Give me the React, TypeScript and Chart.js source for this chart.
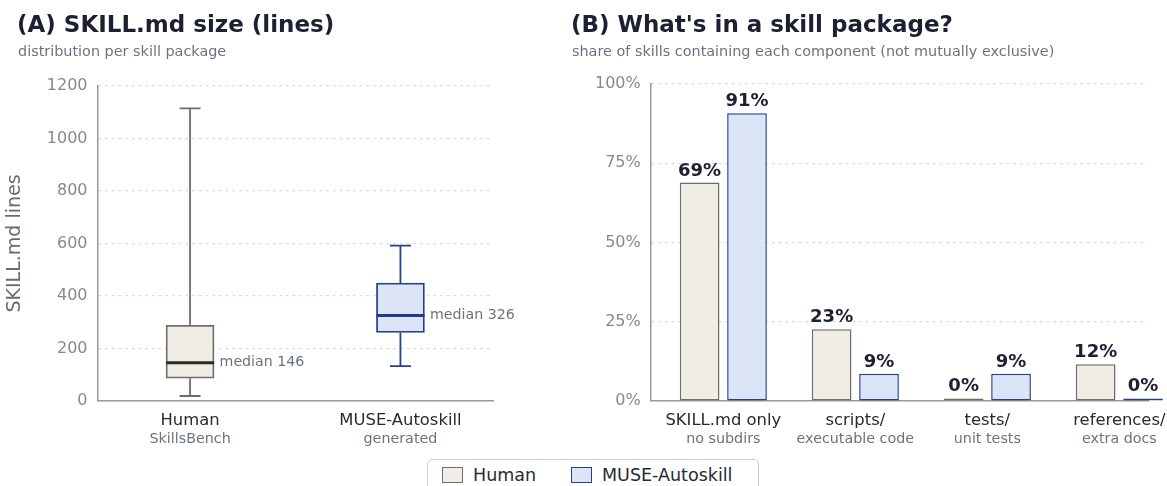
import React, { useEffect, useRef } from 'react';
import { Chart, registerables } from 'chart.js';

Chart.register(...registerables);

// ---------- data ----------
const BOX_GROUPS = ['Human', 'MUSE-Autoskill'];
const BOX_SUBS = ['SkillsBench', 'generated'];
const BOX_MIN = [19, 133];
const BOX_Q1 = [87, 261];
const BOX_MEDIAN = [146, 326];
const BOX_Q3 = [288, 449];
const BOX_MAX = [1115, 592];

const COMPONENTS = ['SKILL.md only', 'scripts/', 'tests/', 'references/'];
const COMPONENT_SUBS = ['no subdirs', 'executable code', 'unit tests', 'extra docs'];
const HUMAN_PCT = [68.9, 22.6, 0, 11.6];
const MUSE_PCT = [90.8, 8.6, 8.6, 0];
const SERIES = ['Human', 'MUSE-Autoskill'];

// ---------- style ----------
const FONT = "'DejaVu Sans', sans-serif";
const HUMAN_FILL = '#f0ede6';
const HUMAN_EDGE = '#6e6d68';
const HUMAN_MEDIAN = '#2b2b28';
const MUSE_FILL = '#dbe5f7';
const MUSE_EDGE = '#23418f';
const MUSE_MEDIAN = '#1e3a8a';
const TITLE_COLOR = '#1c2030';
const LABEL_DARK = '#262b38';
const SUB_GRAY = '#6b7280';
const TICK_GRAY = '#8a8985';
const AXIS_COLOR = '#9c9a93';
const GRID_COLOR = '#d9d9d2';
const MIN_VISIBLE = 0.8; // keeps 0% bars visible as a thin stub

const FILLS = [HUMAN_FILL, MUSE_FILL];
const EDGES = [HUMAN_EDGE, MUSE_EDGE];
const MEDIANS = [HUMAN_MEDIAN, MUSE_MEDIAN];

function drawCategoryLabels(chart: any, cats: string[], subs: string[]) {
  const { ctx, scales, chartArea } = chart;
  const xs = scales.x;
  ctx.save();
  ctx.textAlign = 'center';
  ctx.textBaseline = 'alphabetic';
  cats.forEach((c, i) => {
    const x = xs.getPixelForValue(i);
    ctx.font = `16.4px ${FONT}`;
    ctx.fillStyle = LABEL_DARK;
    ctx.fillText(c, x, chartArea.bottom + 24);
    ctx.font = `14.3px ${FONT}`;
    ctx.fillStyle = SUB_GRAY;
    ctx.fillText(subs[i], x, chartArea.bottom + 42.3);
  });
  ctx.restore();
}

const gridColor = (c: any) => (c.tick && c.tick.value === 0 ? 'rgba(0,0,0,0)' : GRID_COLOR);

function BoxChart() {
  const ref = useRef<HTMLCanvasElement>(null);
  useEffect(() => {
    const boxPlugin = {
      id: 'boxExtras',
      afterDatasetsDraw(chart: any) {
        const { ctx, scales } = chart;
        const x = scales.x;
        const y = scales.y;
        const meta = chart.getDatasetMeta(0);
        const CAP = 21;
        BOX_GROUPS.forEach((_, i) => {
          const cx = x.getPixelForValue(i);
          const half = meta.data[i].width / 2;
          const yMax = y.getPixelForValue(BOX_MAX[i]);
          const yMin = y.getPixelForValue(BOX_MIN[i]);
          const yQ1 = y.getPixelForValue(BOX_Q1[i]);
          const yQ3 = y.getPixelForValue(BOX_Q3[i]);
          const yMed = y.getPixelForValue(BOX_MEDIAN[i]);
          ctx.save();
          ctx.strokeStyle = EDGES[i];
          ctx.lineWidth = 1.8;
          ctx.beginPath();
          ctx.moveTo(cx, yQ3);
          ctx.lineTo(cx, yMax);
          ctx.moveTo(cx, yQ1);
          ctx.lineTo(cx, yMin);
          ctx.moveTo(cx - CAP / 2, yMax);
          ctx.lineTo(cx + CAP / 2, yMax);
          ctx.moveTo(cx - CAP / 2, yMin);
          ctx.lineTo(cx + CAP / 2, yMin);
          ctx.stroke();
          ctx.strokeStyle = MEDIANS[i];
          ctx.lineWidth = 3;
          ctx.beginPath();
          ctx.moveTo(cx - half, yMed);
          ctx.lineTo(cx + half, yMed);
          ctx.stroke();
          ctx.font = `14.2px ${FONT}`;
          ctx.fillStyle = SUB_GRAY;
          ctx.textAlign = 'left';
          ctx.textBaseline = 'middle';
          ctx.fillText(`median ${BOX_MEDIAN[i]}`, cx + half + 5.5, yMed);
          ctx.restore();
        });
      },
      afterDraw(chart: any) {
        drawCategoryLabels(chart, BOX_GROUPS, BOX_SUBS);
      },
    };

    const chart = new Chart(ref.current as HTMLCanvasElement, {
      type: 'bar',
      data: {
        datasets: [
          {
            label: 'IQR',
            data: BOX_GROUPS.map((_, i) => ({ x: i, y: [BOX_Q1[i], BOX_Q3[i]] })) as any,
            backgroundColor: FILLS,
            borderColor: EDGES,
            borderWidth: 1.8,
            borderSkipped: false,
            barThickness: 48,
          },
        ],
      },
      options: {
        animation: false,
        responsive: false,
        maintainAspectRatio: false,
        events: [],
        layout: { padding: { top: 86, right: 67, left: 0, bottom: 0 } },
        plugins: { legend: { display: false }, tooltip: { enabled: false } },
        scales: {
          x: {
            type: 'linear',
            min: -0.44,
            max: 1.44,
            bounds: 'data',
            offset: false,
            afterBuildTicks: (s: any) => {
              s.ticks = BOX_GROUPS.map((_, i) => ({ value: i }));
            },
            afterFit: (s: any) => {
              s.height = 85;
            },
            ticks: { display: false },
            grid: { display: false },
            border: { display: true, color: AXIS_COLOR, width: 1.5 },
          },
          y: {
            min: 0,
            max: 1200,
            afterFit: (s: any) => {
              s.width = 97.5;
            },
            ticks: {
              stepSize: 200,
              padding: 10,
              color: TICK_GRAY,
              font: { family: FONT, size: 16 },
              callback: (v: any) => String(v),
            },
            grid: { color: gridColor, lineWidth: 1.2, drawTicks: false },
            border: { display: true, color: AXIS_COLOR, width: 1.5, dash: [2.5, 4.2] },
            title: {
              display: true,
              text: 'SKILL.md lines',
              color: '#666b75',
              font: { family: FONT, size: 19 },
              padding: { top: 4, bottom: 4 },
            },
          },
        },
      } as any,
      plugins: [boxPlugin],
    });
    return () => chart.destroy();
  }, []);
  return (
    <canvas
      ref={ref}
      width={560}
      height={486}
      style={{ position: 'absolute', left: 0, top: 0, width: 560, height: 486 }}
    />
  );
}

function PackageChart() {
  const ref = useRef<HTMLCanvasElement>(null);
  useEffect(() => {
    const labelPlugin = {
      id: 'pkgLabels',
      afterDatasetsDraw(chart: any) {
        const { ctx } = chart;
        ctx.save();
        ctx.font = `bold 18px ${FONT}`;
        ctx.fillStyle = TITLE_COLOR;
        ctx.textAlign = 'center';
        ctx.textBaseline = 'alphabetic';
        [HUMAN_PCT, MUSE_PCT].forEach((vals, d) => {
          const meta = chart.getDatasetMeta(d);
          meta.data.forEach((el: any, i: number) => {
            ctx.fillText(`${Math.round(vals[i])}%`, el.x, el.y - 7);
          });
        });
        ctx.restore();
      },
      afterDraw(chart: any) {
        drawCategoryLabels(chart, COMPONENTS, COMPONENT_SUBS);
      },
    };

    const chart = new Chart(ref.current as HTMLCanvasElement, {
      type: 'bar',
      data: {
        datasets: [
          {
            label: SERIES[0],
            data: HUMAN_PCT.map((v, i) => ({ x: i, y: Math.max(v, MIN_VISIBLE) })) as any,
            backgroundColor: HUMAN_FILL,
            borderColor: HUMAN_EDGE,
            borderWidth: 1.5,
            borderSkipped: false,
            clip: false,
          },
          {
            label: SERIES[1],
            data: MUSE_PCT.map((v, i) => ({ x: i, y: Math.max(v, MIN_VISIBLE) })) as any,
            backgroundColor: MUSE_FILL,
            borderColor: MUSE_EDGE,
            borderWidth: 1.5,
            borderSkipped: false,
            clip: false,
          },
        ],
      },
      options: {
        animation: false,
        responsive: false,
        maintainAspectRatio: false,
        events: [],
        categoryPercentage: 0.718,
        barPercentage: 0.8376,
        layout: { padding: { top: 84, right: 19, left: 0, bottom: 0 } },
        plugins: { legend: { display: false }, tooltip: { enabled: false } },
        scales: {
          x: {
            type: 'linear',
            min: -0.55,
            max: 3.217,
            bounds: 'data',
            offset: false,
            afterBuildTicks: (s: any) => {
              s.ticks = COMPONENTS.map((_, i) => ({ value: i }));
            },
            afterFit: (s: any) => {
              s.height = 85;
            },
            ticks: { display: false },
            grid: { display: false },
            border: { display: true, color: AXIS_COLOR, width: 1.5 },
          },
          y: {
            min: 0,
            max: 100,
            afterFit: (s: any) => {
              s.width = 90.7;
            },
            ticks: {
              stepSize: 25,
              padding: 10,
              color: TICK_GRAY,
              font: { family: FONT, size: 16 },
              callback: (v: any) => `${v}%`,
            },
            grid: { color: gridColor, lineWidth: 1.2, drawTicks: false },
            border: { display: true, color: AXIS_COLOR, width: 1.5, dash: [2.5, 4.2] },
          },
        },
      } as any,
      plugins: [labelPlugin],
    });
    return () => chart.destroy();
  }, []);
  return (
    <canvas
      ref={ref}
      width={607}
      height={486}
      style={{ position: 'absolute', left: 560, top: 0, width: 607, height: 486 }}
    />
  );
}

const textStyle = (left: number, top: number, size: number, color: string, bold = false): React.CSSProperties => ({
  position: 'absolute',
  left,
  top,
  fontSize: size,
  lineHeight: `${size}px`,
  color,
  fontWeight: bold ? 700 : 400,
  whiteSpace: 'nowrap',
  fontFamily: FONT,
});

export default function App() {
  return (
    <div
      style={{
        position: 'absolute',
        left: 0,
        top: 0,
        width: 1167,
        height: 486,
        overflow: 'hidden',
        background: '#ffffff',
        fontFamily: FONT,
      }}
    >
      <BoxChart />
      <PackageChart />
      <div style={textStyle(17, 13.2, 23, TITLE_COLOR, true)}>(A) SKILL.md size (lines)</div>
      <div style={textStyle(18, 43.8, 14.4, SUB_GRAY)}>distribution per skill package</div>
      <div style={textStyle(571, 13.2, 23, TITLE_COLOR, true)}>(B) What's in a skill package?</div>
      <div style={textStyle(572, 43.8, 14.4, SUB_GRAY)}>
        share of skills containing each component (not mutually exclusive)
      </div>
      <div
        style={{
          position: 'absolute',
          left: 427.3,
          top: 459,
          width: 331.7,
          height: 44,
          border: '1px solid #cfcfcf',
          borderRadius: 5,
          boxSizing: 'border-box',
          background: '#ffffff',
        }}
      />
      {SERIES.map((s, i) => {
        const sx = [442.3, 571.3][i];
        return (
          <React.Fragment key={s}>
            <div
              style={{
                position: 'absolute',
                left: sx,
                top: 467.3,
                width: 20.4,
                height: 15.4,
                boxSizing: 'border-box',
                background: FILLS[i],
                border: `1.4px solid ${EDGES[i]}`,
              }}
            />
            <div style={textStyle(sx + 30.7, 466.9, 17.5, LABEL_DARK)}>{s}</div>
          </React.Fragment>
        );
      })}
    </div>
  );
}
